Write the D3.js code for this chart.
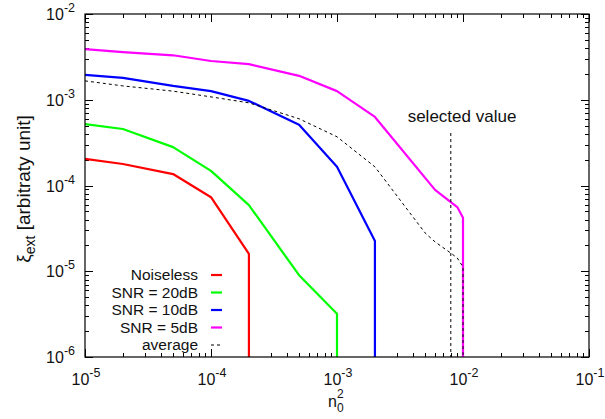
<!DOCTYPE html>
<meta charset="utf-8">
<head>
    <style>
        body {
            margin: 0;
            background: #fff;
            font-family: 'Liberation Sans', Arial, sans-serif;
        }
        .frame {
            fill: none;
            stroke: #000;
            stroke-width: 1.2px;
        }
        .tick {
            stroke: #000;
            stroke-width: 1px;
            shape-rendering: crispEdges;
        }
        .lbl {
            font-size: 15px;
            fill: #111;
        }
    </style>
</head>

<body>
    <svg id="chart"></svg>

    <script src="https://cdn.jsdelivr.net/npm/d3@7"></script>
    <script>

        // n0^2 values used by the curves
        var xNoiseless = [1e-5, 2e-5, 5e-5, 1e-4, 2e-4, 2e-4];
        var yNoiseless = [2.04e-4, 1.78e-4, 1.36e-4, 7.3e-5, 1.59e-5, 1e-6];

        var x20dB = [1e-5, 2e-5, 5e-5, 1e-4, 2e-4, 5e-4, 1e-3, 1e-3];
        var y20dB = [5.2e-4, 4.56e-4, 2.8e-4, 1.48e-4, 5.9e-5, 9.0e-6, 3.2e-6, 1e-6];

        var x10dB = [1e-5, 2e-5, 5e-5, 1e-4, 2e-4, 5e-4, 1e-3, 2e-3, 2e-3];
        var y10dB = [1.95e-3, 1.8e-3, 1.45e-3, 1.26e-3, 9.7e-4, 5.1e-4, 1.65e-4, 2.25e-5, 1e-6];

        var x5dB = [1e-5, 2e-5, 5e-5, 1e-4, 2e-4, 5e-4, 1e-3, 2e-3, 6e-3, 9e-3, 1e-2, 1e-2];
        var y5dB = [3.9e-3, 3.6e-3, 3.3e-3, 2.83e-3, 2.6e-3, 1.9e-3, 1.26e-3, 6.3e-4, 8.9e-5, 5.6e-5, 4.2e-5, 1e-6];

        var xAverage = [1e-5, 2e-5, 5e-5, 1e-4, 2e-4, 5e-4, 1e-3, 2e-3, 5e-3, 6e-3, 8e-3, 9e-3, 1e-2, 1e-2];
        var yAverage = [1.66e-3, 1.45e-3, 1.26e-3, 1.08e-3, 9.2e-4, 6.0e-4, 3.7e-4, 1.65e-4, 2.8e-5, 2.2e-5, 1.63e-5, 1.43e-5, 1.12e-5, 1e-6];

        var seriesNames = ["Noiseless", "SNR = 20dB", "SNR = 10dB", "SNR = 5dB", "average"];
        var seriesColors = ["#ff0000", "#00ff00", "#0000ff", "#ff00ff", "#000000"];

        var xExponents = [-5, -4, -3, -2, -1];
        var yExponents = [-6, -5, -4, -3, -2];

        var selectedValue = 8e-3;

        var series = [
            { x: xNoiseless, y: yNoiseless },
            { x: x20dB, y: y20dB },
            { x: x10dB, y: y10dB },
            { x: x5dB, y: y5dB },
            { x: xAverage, y: yAverage }
        ];

        var W = 605, H = 419;
        var margin = { top: 14, right: 16, bottom: 62, left: 85 },
            width = W - margin.left - margin.right,
            height = H - margin.top - margin.bottom;

        var svg = d3.select("#chart")
            .attr("width", W)
            .attr("height", H);

        var g = svg.append("g")
            .attr("transform", "translate(" + margin.left + "," + margin.top + ")");

        var x = d3.scaleLog().domain([1e-5, 1e-1]).range([0, width]);
        var y = d3.scaleLog().domain([1e-6, 1e-2]).range([height, 0]);

        // clip so the drops stop at the frame
        g.append("clipPath").attr("id", "clip")
            .append("rect").attr("width", width).attr("height", height);

        // ticks, gnuplot style: inward, mirrored on all sides
        var majorLen = 8, minorLen = 4;
        var xt = [], yt = [];
        xExponents.forEach(function (e, i) {
            var base = Math.pow(10, e);
            xt.push({ v: base, major: true });
            if (i < xExponents.length - 1) {
                for (var k = 2; k <= 9; k++) xt.push({ v: k * base, major: false });
            }
        });
        yExponents.forEach(function (e, i) {
            var base = Math.pow(10, e);
            yt.push({ v: base, major: true });
            if (i < yExponents.length - 1) {
                for (var k = 2; k <= 9; k++) yt.push({ v: k * base, major: false });
            }
        });

        xt.forEach(function (t) {
            var px = Math.round(x(t.v)) + 0.5, L = t.major ? majorLen : minorLen;
            g.append("line").attr("class", "tick")
                .attr("x1", px).attr("x2", px).attr("y1", height).attr("y2", height - L);
            g.append("line").attr("class", "tick")
                .attr("x1", px).attr("x2", px).attr("y1", 0).attr("y2", L);
        });
        yt.forEach(function (t) {
            var py = Math.round(y(t.v)) + 0.5, L = t.major ? majorLen : minorLen;
            g.append("line").attr("class", "tick")
                .attr("x1", 0).attr("x2", L).attr("y1", py).attr("y2", py);
            g.append("line").attr("class", "tick")
                .attr("x1", width).attr("x2", width - L).attr("y1", py).attr("y2", py);
        });

        // tick labels 10^e
        xExponents.forEach(function (e) {
            var t = g.append("text").attr("class", "lbl")
                .attr("x", x(Math.pow(10, e)) + 1)
                .attr("y", height + 28)
                .attr("text-anchor", "middle")
                .style("font-size", "16px");
            t.append("tspan").text("10");
            t.append("tspan").attr("dy", -8).style("font-size", "12.5px").text(e);
        });
        yExponents.forEach(function (e) {
            var t = g.append("text").attr("class", "lbl")
                .attr("x", -10)
                .attr("y", y(Math.pow(10, e)) + 6)
                .attr("text-anchor", "end")
                .style("font-size", "16px");
            t.append("tspan").text("10");
            t.append("tspan").attr("dy", -8).style("font-size", "12.5px").text(e);
        });

        // axis titles
        var xt2 = svg.append("text").attr("class", "lbl")
            .attr("x", 328).attr("y", 407)
            .style("font-size", "16px");
        xt2.append("tspan").text("n");
        xt2.append("tspan").attr("x", 337).attr("dy", 5).style("font-size", "12px").text("0");
        xt2.append("tspan").attr("x", 337).attr("dy", -14).style("font-size", "12px").text("2");

        var yTitle = svg.append("text").attr("class", "lbl")
            .attr("transform", "translate(30,189) rotate(-90)")
            .attr("text-anchor", "middle")
            .style("font-size", "19px");
        yTitle.append("tspan").text("\u03BE");
        yTitle.append("tspan").attr("dy", 5).style("font-size", "14px").text("ext");
        yTitle.append("tspan").attr("dy", -5).text(" [arbitraty unit]");

        // curves
        var line = d3.line()
            .x(function (d) { return x(d[0]); })
            .y(function (d) { return y(d[1]); });

        var plot = g.append("g").attr("clip-path", "url(#clip)");

        series.forEach(function (s, i) {
            var pts = s.x.map(function (v, j) { return [v, s.y[j]]; });
            var avg = i === series.length - 1;
            plot.append("path")
                .datum(pts)
                .attr("d", line)
                .attr("fill", "none")
                .attr("stroke", seriesColors[i])
                .attr("stroke-width", avg ? 1 : 2.2)
                .attr("stroke-dasharray", avg ? "3,3" : null)
                .attr("stroke-linejoin", "round");
        });

        // selected value marker
        g.append("line")
            .attr("x1", x(selectedValue)).attr("x2", x(selectedValue))
            .attr("y1", 119).attr("y2", height)
            .attr("stroke", "#000").attr("stroke-width", 1)
            .attr("stroke-dasharray", "3,3");
        svg.append("text").attr("class", "lbl")
            .attr("x", 462).attr("y", 122)
            .attr("text-anchor", "middle")
            .style("font-size", "17px")
            .text("selected value");

        // legend
        var legend = svg.append("g");
        seriesNames.forEach(function (name, i) {
            var ly = 275 + i * 17.5;
            legend.append("text").attr("class", "lbl")
                .attr("x", 198).attr("y", ly + 5)
                .attr("text-anchor", "end")
                .style("font-size", "15.5px")
                .text(name);
            legend.append("line")
                .attr("x1", 211).attr("x2", 222)
                .attr("y1", ly).attr("y2", ly)
                .attr("stroke", seriesColors[i])
                .attr("stroke-width", i === 4 ? 1 : 2.2)
                .attr("stroke-dasharray", i === 4 ? "3,3" : null);
        });

        // frame on top
        g.append("rect").attr("class", "frame")
            .attr("width", width).attr("height", height);

    </script>
</body>
